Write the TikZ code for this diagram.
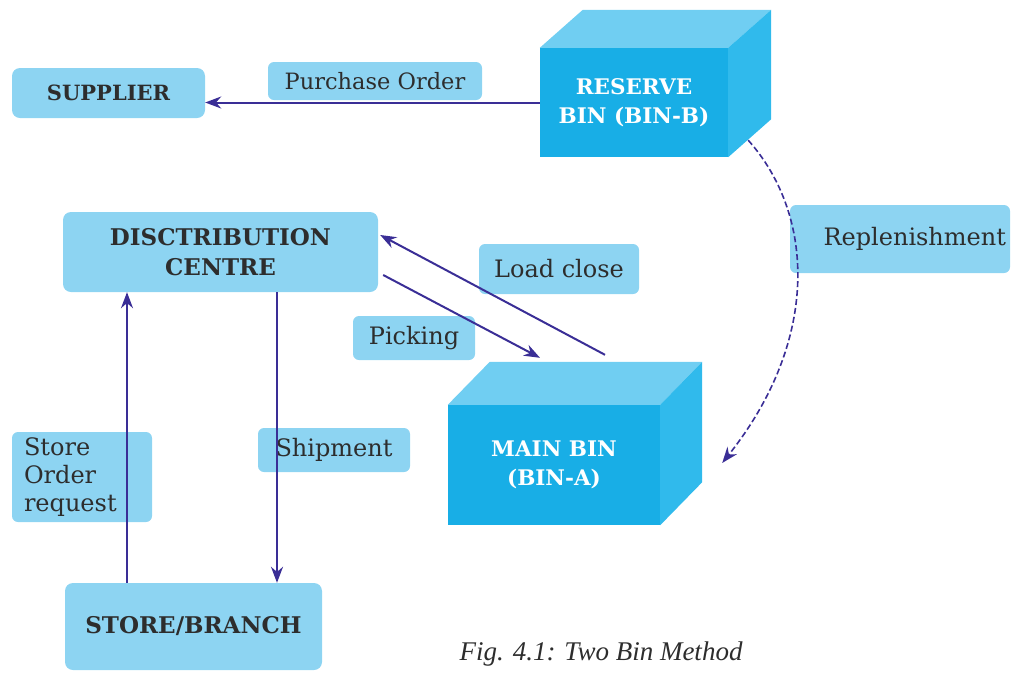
\documentclass[tikz,border=0pt]{standalone}
\usepackage{fontspec}
\setmainfont{DejaVu Serif}
\newfontfamily\capfont{Liberation Serif}
\usetikzlibrary{arrows.meta}

\definecolor{boxblue}{RGB}{141,212,242}
\definecolor{binfront}{RGB}{24,174,230}
\definecolor{bintop}{RGB}{112,206,242}
\definecolor{binside}{RGB}{48,186,236}
\definecolor{arrowblue}{RGB}{58,46,150}
\definecolor{txtgray}{RGB}{45,45,45}

\tikzset{
  blk/.style={rectangle, rounded corners=8pt, fill=boxblue, text=txtgray, inner sep=0pt,
    font=\fontsize{23}{30}\selectfont\bfseries, align=center},
  lbl/.style={rectangle, rounded corners=6pt, fill=boxblue, text=txtgray, inner sep=0pt,
    font=\fontsize{24}{28}\selectfont},
  bin/.style={rectangle, fill=binfront, text=white, inner sep=0pt,
    font=\fontsize{21.5}{29}\selectfont\bfseries, align=center},
  flow/.style={draw=arrowblue, line width=2pt, -{Stealth[length=16pt,width=12pt]}},
}

\begin{document}
\begin{tikzpicture}[x=1pt, y=-1pt]
    \useasboundingbox (0,0) rectangle (1013,673);

    % ノード
    \node[blk, minimum width=193, minimum height=50, font=\fontsize{21}{30}\selectfont\bfseries] (sup) at (108.5, 93) {SUPPLIER};
    \node[blk, minimum width=315, minimum height=80] (dc) at (220.5, 252) {DISCTRIBUTION\\CENTRE};
    \node[blk, minimum width=257, minimum height=87] (st) at (193.5, 626.5) {STORE/BRANCH};

    % ラベル
    \node[lbl, minimum width=214, minimum height=38, font=\fontsize{22.5}{28}\selectfont] (po) at (375, 81) {Purchase Order};
    \node[lbl, minimum width=160, minimum height=50] (lc) at (559, 269) {Load close};
    \node[lbl, minimum width=122, minimum height=44] (pk) at (414, 338) {Picking};
    \node[lbl, minimum width=152, minimum height=44] (sh) at (334, 450) {Shipment};
    \node[lbl, minimum height=68, text width=212, inner xsep=4, align=right] (rp) at (900, 239) {Replenishment};
    \node[lbl, minimum height=90, text width=116, inner xsep=12, align=left] (so) at (82, 477) {Store\\Order\\request};

    % 立方体
    \node[bin, minimum width=188, minimum height=109] (rb) at (634, 102.5) {RESERVE\\BIN (BIN-B)};
    \fill[bintop] (rb.north west) -- ([shift={(43,-38)}]rb.north west)
      -- ([shift={(43,-38)}]rb.north east) -- (rb.north east) -- cycle;
    \fill[binside] (rb.north east) -- ([shift={(43,-38)}]rb.north east)
      -- ([shift={(43,-38)}]rb.south east) -- (rb.south east) -- cycle;

    \node[bin, minimum width=212, minimum height=120] (mb) at (554, 465) {MAIN BIN\\(BIN-A)};
    \fill[bintop] (mb.north west) -- ([shift={(42,-43)}]mb.north west)
      -- ([shift={(42,-43)}]mb.north east) -- (mb.north east) -- cycle;
    \fill[binside] (mb.north east) -- ([shift={(42,-43)}]mb.north east)
      -- ([shift={(42,-43)}]mb.south east) -- (mb.south east) -- cycle;

    \node[font=\capfont\itshape\fontsize{27}{30}\selectfont, text=txtgray] (cap) at (601, 654) {Fig. 4.1: Two Bin Method};

    % エッジ
    \draw[flow] (rb.west) -- (rb.west -| sup.east);
    \draw[flow] ([shift={(51,-50)}]mb.north) -- ([shift={(2,-17)}]dc.east);
    \draw[flow] ([shift={(5,23)}]dc.east) -- ([shift={(-14,-47)}]mb.north);
    \draw[flow] ([xshift=-66.5]st.north) -- ([xshift=-66.5]st.north |- dc.south);
    \draw[flow] ([xshift=56.5]dc.south) -- ([xshift=56.5]dc.south |- st.north);
    \draw[flow, line width=1.6pt, dash pattern=on 6pt off 3pt]
      ([shift={(20,-17)}]rb.south east) .. controls (815,215) and (820,340) .. ([shift={(62,-2)}]mb.east);
  \end{tikzpicture}
\end{document}
